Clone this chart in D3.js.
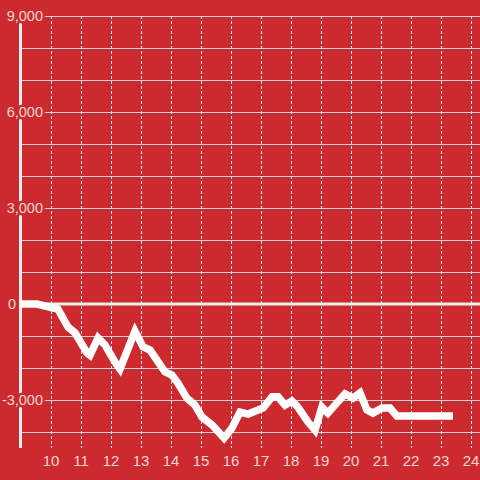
<!DOCTYPE html>
<html><head><meta charset="utf-8">
<script src="https://cdn.jsdelivr.net/npm/d3@7"></script>
<style>html,body{margin:0;padding:0;background:#cc2a2e;}svg{display:block;}</style>
</head><body>
<script>
const hours = [9.0, 9.53, 10.23, 10.57, 10.8, 11.2, 11.3, 11.57, 11.8, 12.13, 12.3, 12.8, 13.07, 13.3, 13.8, 14.03, 14.23, 14.53, 14.8, 15.03, 15.37, 15.77, 16.03, 16.3, 16.57, 17.07, 17.37, 17.57, 17.8, 18.03, 18.23, 18.57, 18.8, 19.03, 19.23, 19.53, 19.8, 20.07, 20.3, 20.53, 20.73, 21.03, 21.3, 21.53, 23.4];
const values = [0, 0, -160, -720, -900, -1530, -1600, -1060, -1280, -1810, -2030, -850, -1340, -1440, -2120, -2220, -2470, -2940, -3160, -3530, -3780, -4190, -3880, -3380, -3440, -3250, -2900, -2900, -3160, -3030, -3220, -3690, -3940, -3220, -3410, -3090, -2810, -2940, -2780, -3310, -3410, -3250, -3250, -3500, -3500];
const xTicks = [10,11,12,13,14,15,16,17,18,19,20,21,22,23,24];
const yGrid = d3.range(-4000, 9001, 1000);
const yLabels = [9000, 6000, 3000, 0, -3000];

const W = 480, H = 480, BG = "#cc2a2e", TXT = "#f5d6d6";
const x = d3.scaleLinear().domain([9, 24.3]).range([21, 480]);
const y = d3.scaleLinear().domain([-4500, 9000]).range([448, 16]);
const fmt = d3.format(",");

const svg = d3.select("body").append("svg").attr("width", W).attr("height", H);
svg.append("rect").attr("width", W).attr("height", H).attr("fill", BG);

// horizontal grid
svg.append("g").selectAll("line").data(yGrid.filter(d => d !== 0)).join("line")
  .attr("x1", 21).attr("x2", 480).attr("y1", d => y(d)).attr("y2", d => y(d))
  .attr("stroke", "#d2d2d2").attr("stroke-width", 1).attr("shape-rendering", "crispEdges");

// vertical dashed grid
svg.append("g").selectAll("line").data(xTicks).join("line")
  .attr("x1", d => Math.round(x(d)) + 0.5).attr("x2", d => Math.round(x(d)) + 0.5)
  .attr("y1", 16).attr("y2", 448)
  .attr("stroke", "#e6e6e6").attr("stroke-width", 1).attr("stroke-dasharray", "3,2");

// zero line
svg.append("line").attr("x1", 20).attr("x2", 480).attr("y1", y(0)).attr("y2", y(0))
  .attr("stroke", "#eeeeee").attr("stroke-width", 3);

// y axis line
svg.append("line").attr("x1", 20.5).attr("x2", 20.5).attr("y1", 16).attr("y2", 448)
  .attr("stroke", "#eeeeee").attr("stroke-width", 3);

// data line
const line = d3.line().x((d, i) => x(hours[i])).y(d => y(d));
svg.append("path").datum(values).attr("d", line)
  .attr("fill", "none").attr("stroke", "#ffffff").attr("stroke-width", 7.5)
  .attr("stroke-linejoin", "miter").attr("stroke-linecap", "butt");

// y labels with halo
svg.append("g").selectAll("text").data(yLabels).join("text")
  .attr("x", d => d === 0 ? 16 : 43).attr("y", d => y(d) + 5)
  .attr("text-anchor", "end")
  .attr("font-family", "Liberation Sans, Arial, sans-serif").attr("font-size", 14.5)
  .attr("fill", TXT).attr("stroke", BG).attr("stroke-width", 5)
  .attr("paint-order", "stroke").attr("stroke-linejoin", "round")
  .text(d => fmt(d).replace("−", "-"));

// x labels
svg.append("g").selectAll("text").data(xTicks).join("text")
  .attr("x", d => x(d)).attr("y", 466)
  .attr("text-anchor", "middle")
  .attr("font-family", "Liberation Sans, Arial, sans-serif").attr("font-size", 15)
  .attr("fill", TXT)
  .text(d => d);
</script>
</body></html>
